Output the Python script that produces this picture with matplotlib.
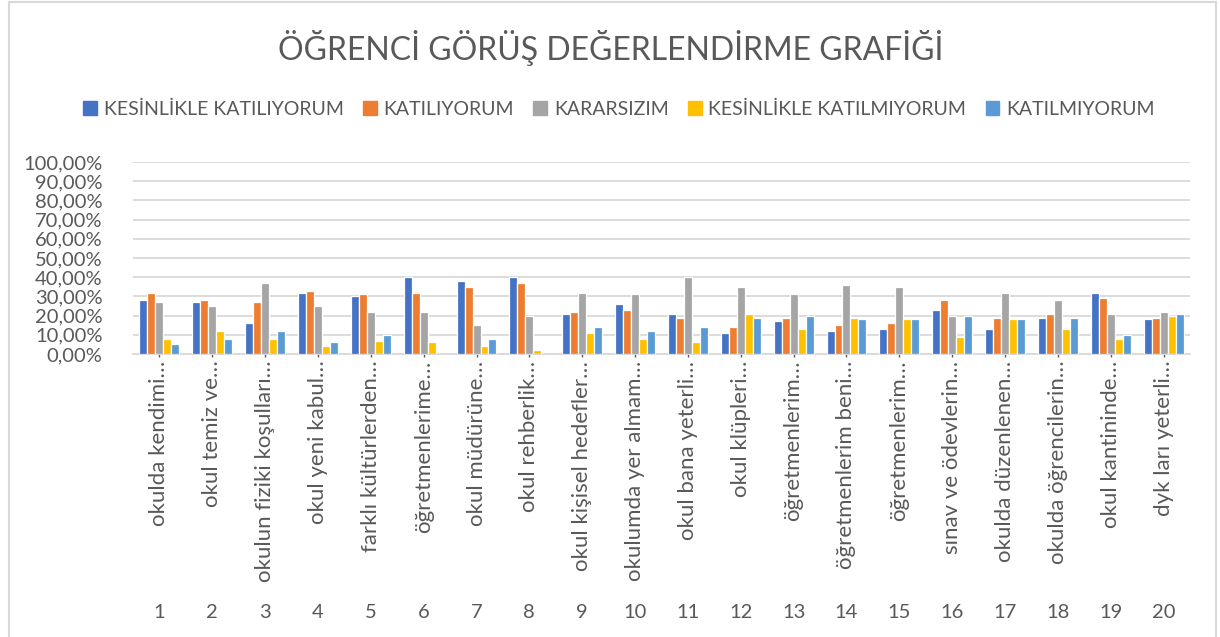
import matplotlib
matplotlib.use('Agg')
import matplotlib.pyplot as plt
import matplotlib.patches as mpatches
from matplotlib.transforms import blended_transform_factory
import numpy as np

TEXT_COLOR = '#595959'
GRID_COLOR = '#d9d9d9'

series_names = ['KESİNLİKLE KATILIYORUM', 'KATILIYORUM', 'KARARSIZIM',
                'KESİNLİKLE KATILMIYORUM', 'KATILMIYORUM']
series_colors = ['#4472C4', '#ED7D31', '#A5A5A5', '#FFC000', '#5B9BD5']

question_labels = [
    'okulda kendimi…', 'okul temiz ve…', 'okulun fiziki koşulları…',
    'okul yeni kabul…', 'farklı kültürlerden…', 'öğretmenlerime…',
    'okul müdürüne…', 'okul rehberlik…', 'okul kişisel hedefler…',
    'okulumda yer almam…', 'okul bana yeterli…', 'okul klüpleri…',
    'öğretmenlerim…', 'öğretmenlerim beni…', 'öğretmenlerim…',
    'sınav ve ödevlerin…', 'okulda düzenlenen…', 'okulda öğrencilerin…',
    'okul kantininde…', 'dyk ları yeterli…',
]
question_numbers = [str(i) for i in range(1, 21)]

# percentages
kesinlikle_katiliyorum = [28, 27, 16, 32, 30, 40, 38, 40, 21, 26,
                          21, 11, 17, 12, 13, 23, 13, 19, 32, 18]
katiliyorum = [32, 28, 27, 33, 31, 32, 35, 37, 22, 23,
               19, 14, 19, 15, 16, 28, 19, 21, 29, 19]
kararsizim = [27, 25, 37, 25, 22, 22, 15, 20, 32, 31,
              40, 35, 31, 36, 35, 20, 32, 28, 21, 22]
kesinlikle_katilmiyorum = [8, 12, 8, 4, 7, 6, 4, 2, 11, 8,
                           6, 21, 13, 19, 18, 9, 18, 13, 8, 20]
katilmiyorum = [5, 8, 12, 6, 10, 0, 8, 0, 14, 12,
                14, 19, 20, 18, 18, 20, 18, 19, 10, 21]

values = [kesinlikle_katiliyorum, katiliyorum, kararsizim,
          kesinlikle_katilmiyorum, katilmiyorum]

plt.rcParams['font.family'] = ['Lato', 'DejaVu Sans']

fig = plt.figure(figsize=(12.2, 6.37), dpi=100)
ax = fig.add_axes([133 / 1220, 1 - 354 / 637, (1190 - 133) / 1220, (354 - 162) / 637])

x = np.arange(len(question_labels))
step = 0.151
for i, (name, color, vals) in enumerate(zip(series_names, series_colors, values)):
    ax.bar(x + (i - 2) * step, np.array(vals) / 100.0, width=step,
           color=color, edgecolor='white', linewidth=0.9, label=name, zorder=3)

ax.set_xlim(-0.5, len(question_labels) - 0.5)
ax.set_ylim(0, 1)
ax.set_yticks(np.arange(0, 1.01, 0.1))
ax.set_yticklabels(['%d,00%%' % round(v * 100) for v in np.arange(0, 1.01, 0.1)],
                   fontsize=14.5, color=TEXT_COLOR)
ax.tick_params(axis='y', length=0, pad=22)
ax.set_xticks(x)
ax.set_xticklabels([])
ax.tick_params(axis='x', length=2, width=1, color=TEXT_COLOR)
ax.yaxis.grid(True, color=GRID_COLOR, linewidth=1.3, zorder=0)
for side in ['top', 'right', 'left']:
    ax.spines[side].set_visible(False)
ax.spines['bottom'].set_color(GRID_COLOR)
ax.spines['bottom'].set_linewidth(1.3)

trans = blended_transform_factory(ax.transData, ax.transAxes)
for xi, label, num in zip(x, question_labels, question_numbers):
    ax.text(xi, -0.035, label, rotation=90, ha='center', va='top',
            fontsize=16, color=TEXT_COLOR, transform=trans)
    ax.text(xi, (354 - 612) / (354 - 162), num, ha='center', va='center',
            fontsize=14.5, color=TEXT_COLOR, transform=trans)

fig.text(611 / 1220, 1 - 48 / 637, 'ÖĞRENCİ GÖRÜŞ DEĞERLENDİRME GRAFİĞİ',
         ha='center', va='center', fontsize=23, color=TEXT_COLOR)

handles = [mpatches.Patch(color=c, label=n) for n, c in zip(series_names, series_colors)]
fig.legend(handles=handles, loc='center', bbox_to_anchor=(619 / 1220, 1 - 109 / 637),
           ncol=5, frameon=False, fontsize=14, handlelength=0.7, handleheight=0.7,
           handletextpad=0.35, columnspacing=1.0, labelcolor=TEXT_COLOR)

fig.patches.append(mpatches.Rectangle((8.5 / 1220, -0.02), (1216 - 8.5) / 1220,
                                      1.02 - 2 / 637, transform=fig.transFigure,
                                      fill=False, edgecolor=GRID_COLOR, linewidth=1.5))

fig.savefig('out.png', dpi=100)
